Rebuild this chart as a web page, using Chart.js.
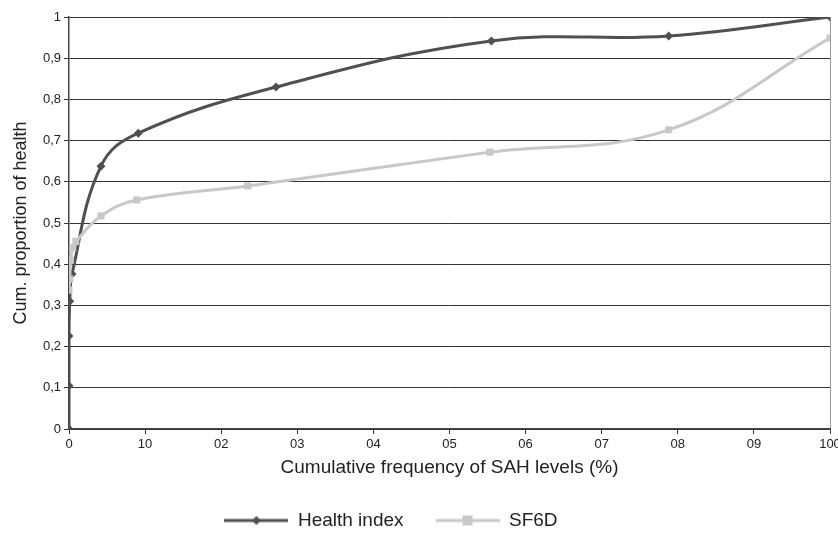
<!DOCTYPE html>
<html>
<head>
<meta charset="utf-8">
<script src="https://cdn.jsdelivr.net/npm/chart.js@4"></script>
<style>
  html, body { margin: 0; padding: 0; background: #fff; }
  #wrap { width: 838px; height: 533px; }
</style>
</head>
<body>
<div id="wrap"><canvas id="chart" width="838" height="533"></canvas></div>
<script>
// Data
const xTickLabels = ['0', '10', '02', '03', '04', '05', '06', '07', '08', '09', '100'];
const yTickLabels = ['0', '0,1', '0,2', '0,3', '0,4', '0,5', '0,6', '0,7', '0,8', '0,9', '1'];

const healthX = [0, 0, 0, 0.1, 0.4, 4.2, 9.1, 27.2, 55.5, 78.8, 100];
const healthY = [0, 0.105, 0.226, 0.31, 0.376, 0.638, 0.718, 0.83, 0.942, 0.954, 1];

const sf6dX = [0, 0.1, 0.2, 0.5, 0.9, 4.2, 8.9, 23.5, 55.3, 78.8, 100];
const sf6dY = [0.337, 0.364, 0.41, 0.44, 0.455, 0.517, 0.556, 0.59, 0.672, 0.726, 0.949];

const DARK = '#505050';
const LIGHT = '#c8c8c8';
const FONT = '"Liberation Sans", Arial, sans-serif';

function toPoints(x, y) {
    const pts = [];
    for (let i = 0; i < x.length; i++) pts.push({ x: x[i], y: y[i] });
    return pts;
}

// legend symbol: short line with the marker in the middle
function legendIcon(color, marker) {
    const c = document.createElement('canvas');
    c.width = 64; c.height = 12;
    const g = c.getContext('2d');
    g.strokeStyle = color;
    g.lineWidth = 3;
    g.beginPath(); g.moveTo(0, 6); g.lineTo(64, 6); g.stroke();
    g.fillStyle = color;
    if (marker === 'diamond') {
        g.beginPath(); g.moveTo(32, 1.5); g.lineTo(36.5, 6); g.lineTo(32, 10.5); g.lineTo(27.5, 6); g.closePath(); g.fill();
    } else {
        g.fillRect(27, 1, 10, 10);
    }
    return c;
}

const icons = [legendIcon(DARK, 'diamond'), legendIcon(LIGHT, 'square')];

// the legend in the reference sits a little left of centre
const legendShift = {
    id: 'legendShift',
    afterLayout(chart) {
        if (chart.legend) {
            chart.legend.left -= 24;
            chart.legend.right -= 24;
        }
    }
};

const ctx = document.getElementById('chart');
new Chart(ctx, {
    type: 'line',
    data: {
        datasets: [
            {
                label: 'Health index',
                data: toPoints(healthX, healthY),
                borderColor: DARK,
                backgroundColor: DARK,
                borderWidth: 3,
                pointStyle: 'rectRot',
                pointRadius: 4.5,
                pointBorderWidth: 0,
                tension: 0.4,
                order: 1
            },
            {
                label: 'SF6D',
                data: toPoints(sf6dX, sf6dY),
                borderColor: LIGHT,
                backgroundColor: LIGHT,
                borderWidth: 3,
                pointStyle: 'rect',
                pointRadius: 5,
                pointBorderWidth: 0,
                tension: 0.4,
                order: 0
            }
        ]
    },
    plugins: [legendShift],
    options: {
        responsive: false,
        animation: false,
        devicePixelRatio: 1,
        layout: { padding: { left: 0, right: 8, top: 17, bottom: 2 } },
        plugins: {
            tooltip: { enabled: false },
            legend: {
                position: 'bottom',
                maxHeight: 52,
                labels: {
                    color: '#222',
                    font: { family: FONT, size: 19 },
                    usePointStyle: true,
                    pointStyleWidth: 64,
                    padding: 32,
                    generateLabels(chart) {
                        return chart.data.datasets.map((ds, i) => ({
                            text: ds.label,
                            pointStyle: icons[i],
                            datasetIndex: i,
                            fontColor: '#222',
                            lineWidth: 0
                        }));
                    }
                }
            }
        },
        scales: {
            x: {
                type: 'linear',
                min: 0,
                max: 100,
                ticks: {
                    stepSize: 10,
                    color: '#222',
                    font: { family: FONT, size: 13 },
                    padding: 3,
                    maxRotation: 0,
                    callback: (v) => xTickLabels[Math.round(v / 10)]
                },
                grid: {
                    drawOnChartArea: true,
                    color: (c) => (c.tick && c.tick.value === 100 ? '#999' : 'rgba(0,0,0,0)'),
                    tickColor: '#333',
                    tickLength: 5
                },
                border: { color: '#444', width: 1.5 },
                title: {
                    display: true,
                    text: 'Cumulative frequency of SAH levels (%)',
                    color: '#222',
                    font: { family: FONT, size: 19 },
                    padding: { top: 0, bottom: 0 }
                },
                afterFit(scale) {
                    scale.height = 50;
                    scale.paddingRight = 0;
                }
            },
            y: {
                min: 0,
                max: 1,
                ticks: {
                    stepSize: 0.1,
                    color: '#222',
                    font: { family: FONT, size: 13 },
                    padding: 3,
                    callback: (v) => yTickLabels[Math.round(v * 10)]
                },
                grid: {
                    color: '#333',
                    tickColor: '#333',
                    tickLength: 5,
                    lineWidth: 1
                },
                border: { color: '#444', width: 1.5 },
                title: {
                    display: true,
                    text: 'Cum. proportion of health',
                    color: '#222',
                    font: { family: FONT, size: 18 },
                    padding: { top: 10, bottom: 4 }
                },
                afterFit(scale) {
                    scale.width = 69;
                    scale.paddingTop = 0;
                    scale.paddingBottom = 0;
                }
            }
        }
    }
});
</script>
</body>
</html>
